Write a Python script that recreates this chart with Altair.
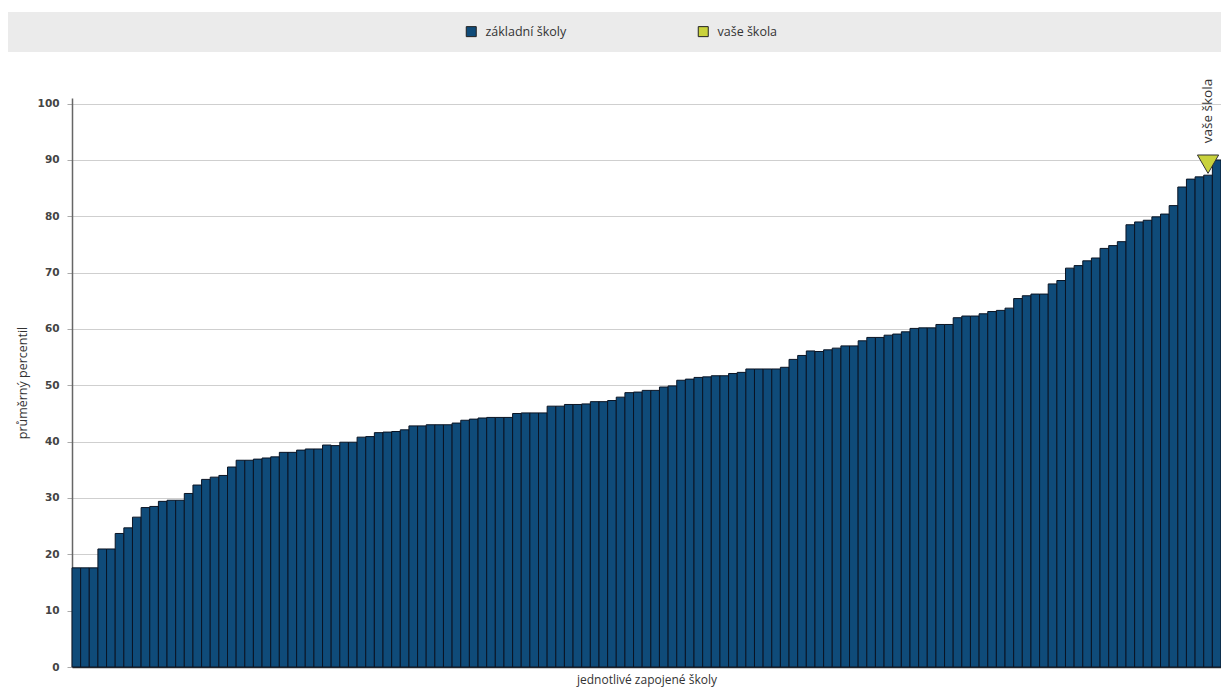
import altair as alt
import pandas as pd

# ---- data ----
values = [
    17.6, 17.6, 17.6, 20.95, 20.95, 23.7, 24.7, 26.6, 28.3, 28.5,
    29.4, 29.6, 29.6, 30.8, 32.3, 33.3, 33.7, 34.0, 35.5, 36.7,
    36.7, 36.9, 37.1, 37.3, 38.1, 38.1, 38.5, 38.7, 38.7, 39.4,
    39.3, 39.9, 39.9, 40.8, 40.9, 41.6, 41.7, 41.8, 42.1, 42.8,
    42.8, 43.0, 43.0, 43.0, 43.3, 43.8, 44.0, 44.2, 44.3, 44.3,
    44.3, 45.0, 45.1, 45.1, 45.1, 46.3, 46.3, 46.6, 46.6, 46.7,
    47.1, 47.1, 47.3, 47.9, 48.7, 48.8, 49.1, 49.1, 49.7, 49.9,
    50.9, 51.1, 51.4, 51.5, 51.7, 51.7, 52.1, 52.3, 52.9, 52.9,
    52.9, 52.9, 53.2, 54.6, 55.3, 56.1, 56.0, 56.3, 56.6, 57.0,
    57.0, 57.9, 58.5, 58.5, 58.9, 59.1, 59.5, 60.1, 60.2, 60.2,
    60.8, 60.8, 62.0, 62.3, 62.3, 62.7, 63.1, 63.3, 63.7, 65.4,
    65.9, 66.2, 66.2, 68.0, 68.6, 70.8, 71.25, 72.1, 72.6, 74.3,
    74.8, 75.5, 78.5, 79.0, 79.3, 79.9, 80.4, 81.9, 85.2, 86.6,
    87.0, 87.3, 90.0,
]
school_index = 132
series_main = "základní školy"
series_school = "vaše škola"
y_ticks = [0, 10, 20, 30, 40, 50, 60, 70, 80, 90, 100]
y_title = "průměrný percentil"
x_title = "jednotlivé zapojené školy"

# ---- layout / style ----
W, H = 1149, 569
FONT = "Open Sans"
BAR_BLUE = "#0f4b79"
SCHOOL_YELLOW = "#c9d23c"

df = pd.DataFrame({
    "skola": list(range(1, len(values) + 1)),
    "hodnota": values,
    "serie": [series_main] * len(values),
})
school_df = pd.DataFrame({
    "skola": [school_index],
    "hodnota": [values[school_index - 1]],
    "popis": [series_school],
})
band_df = pd.DataFrame({"k": [0]})

x_enc = alt.X(
    "skola:O",
    scale=alt.Scale(paddingInner=0, paddingOuter=0),
    axis=alt.Axis(
        title=x_title, labels=False, ticks=False,
        domainColor="#333333", domainWidth=1.5,
        titleFont=FONT, titleFontSize=12, titleFontWeight="normal",
        titleColor="#333333", titlePadding=7,
    ),
)
y_enc = alt.Y(
    "hodnota:Q",
    scale=alt.Scale(domain=[0, 101], nice=False),
    axis=alt.Axis(
        values=y_ticks, title=y_title,
        grid=True, gridColor="#cfcfcf", gridWidth=1,
        domainColor="#666666", domainWidth=1.5,
        tickColor="#aaaaaa", tickSize=5,
        labelFont="DejaVu Sans", labelFontWeight="bold", labelFontSize=10.5,
        labelColor="#444444", labelPadding=8,
        titleFont=FONT, titleFontSize=12.5, titleFontWeight="normal",
        titleColor="#333333", titlePadding=8,
    ),
)

band = alt.Chart(band_df).mark_rect(color="#ebebeb").encode(
    x=alt.value(-64), x2=alt.value(W), y=alt.value(-86), y2=alt.value(-46)
)

bars = alt.Chart(df).mark_bar(stroke="#0a1424", strokeWidth=1).encode(
    x=x_enc,
    y=y_enc,
    color=alt.Color(
        "serie:N",
        scale=alt.Scale(domain=[series_main, series_school], range=[BAR_BLUE, SCHOOL_YELLOW]),
        legend=alt.Legend(
            title=None, orient="none", legendX=393, legendY=-73,
            direction="horizontal", columns=2, columnPadding=129,
            symbolType="square", symbolSize=100,
            symbolStrokeColor="#222222", symbolStrokeWidth=1,
            labelFont=FONT, labelFontSize=12.5, labelColor="#333333",
            labelOffset=8, padding=0,
        ),
    ),
)

marker = alt.Chart(school_df).mark_point(
    shape="triangle-down", filled=True, fill=SCHOOL_YELLOW, stroke="#333333",
    strokeWidth=1, size=450, opacity=1, yOffset=-11,
).encode(x="skola:O", y="hodnota:Q")

label = alt.Chart(school_df).mark_text(
    angle=270, align="left", baseline="middle", font=FONT, fontSize=13.5,
    color="#333333", yOffset=-32,
).encode(x="skola:O", y="hodnota:Q", text="popis:N")

chart = alt.layer(band, bars, marker, label).properties(
    width=W, height=H,
    autosize=alt.AutoSizeParams(type="none"),
    padding={"left": 64, "top": 90, "right": 0, "bottom": 23},
).configure_view(stroke=None)

chart.save("out.html", embed_options={"renderer": "svg", "actions": False})
